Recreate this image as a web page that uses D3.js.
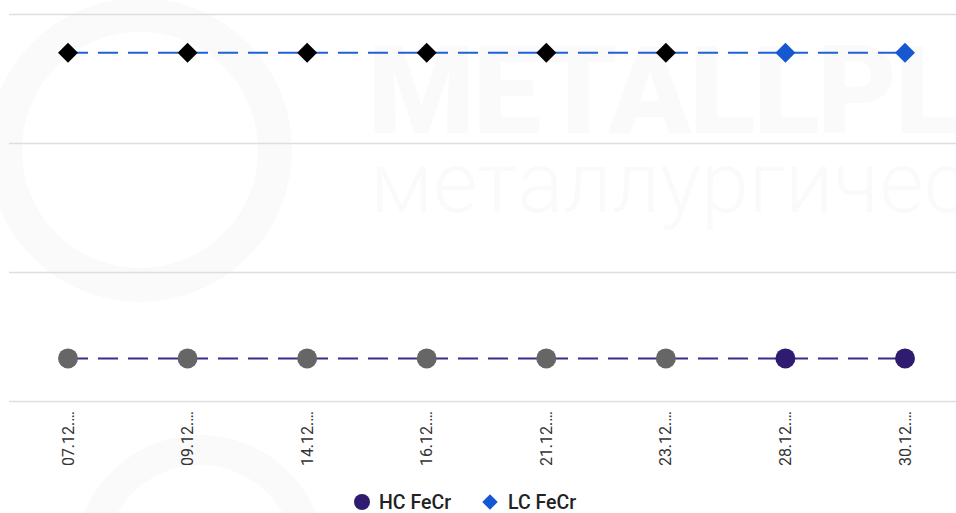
<!DOCTYPE html>
<html>
<head>
<meta charset="utf-8">
<script src="https://cdn.jsdelivr.net/npm/d3@7"></script>
<style>
  html, body { margin: 0; padding: 0; background: #fff; overflow: hidden; }
  svg { display: block; font-family: Roboto, "Noto Sans", sans-serif; }
</style>
</head>
<body>
<svg id="chart" width="956" height="513"></svg>
<script>
// dates on the x axis (shown truncated, as in the source)
const dates = ["07.12.…", "09.12.…", "14.12.…", "16.12.…", "21.12.…", "23.12.…", "28.12.…", "30.12.…"];
// y values (no scale labels are shown, relative units)
const hcValues = [33, 33, 33, 33, 33, 33, 33, 33];
const lcValues = [270, 270, 270, 270, 270, 270, 270, 270];
// which points are highlighted (last two in series colour)
const highlighted = [false, false, false, false, false, false, true, true];
const yTicks = [0, 100, 200, 300];

const series = [
  { name: "HC FeCr", values: hcValues, line: "#3f2b8c", mark: "#2f1b70", base: "#666666", shape: "circle" },
  { name: "LC FeCr", values: lcValues, line: "#1f62d8", mark: "#1558d0", base: "#000000", shape: "diamond" },
];

const width = 956, height = 513;
const svg = d3.select("#chart");

// faint watermark
const wm = svg.append("g").attr("pointer-events", "none");
wm.append("circle").attr("cx", 140).attr("cy", 150).attr("r", 135)
  .attr("fill", "none").attr("stroke", "#fafafa").attr("stroke-width", 34);
wm.append("circle").attr("cx", 200).attr("cy", 560).attr("r", 110)
  .attr("fill", "none").attr("stroke", "#fafafa").attr("stroke-width", 30);
wm.append("text").attr("x", 368).attr("y", 133)
  .attr("font-size", 122).attr("font-weight", 900).attr("fill", "#fafafa")
  .attr("letter-spacing", -2).text("METALLPL");
wm.append("text").attr("x", 370).attr("y", 212)
  .attr("font-size", 86).attr("font-weight", 300).attr("fill", "#fafafa")
  .text("металлургичес");

const x = d3.scalePoint().domain(dates).range([68, 905]);
const y = d3.scaleLinear().domain([0, 300]).range([401, 14]);

// grid
svg.append("g").selectAll("line").data(yTicks).join("line")
  .attr("x1", 9).attr("x2", width)
  .attr("y1", d => Math.round(y(d)) + 0.5).attr("y2", d => Math.round(y(d)) + 0.5)
  .attr("stroke", "#dedede").attr("stroke-width", 1.5);

// x labels
svg.append("g").selectAll("text").data(dates).join("text")
  .attr("transform", d => `translate(${x(d)},411) rotate(-90)`)
  .attr("text-anchor", "end").attr("dy", "0.35em")
  .attr("font-size", 16).attr("fill", "#333")
  .text(d => d);

const diamond = d3.symbol().type(d3.symbolSquare).size(200);

series.forEach(s => {
  const line = d3.line().x((d, i) => x(dates[i])).y(d => y(d));
  svg.append("path").datum(s.values)
    .attr("d", line).attr("fill", "none")
    .attr("stroke", s.line).attr("stroke-width", 2)
    .attr("stroke-dasharray", "20,10");

  const g = svg.append("g");
  const pts = s.values.map((v, i) => ({ v, i }));
  if (s.shape === "circle") {
    g.selectAll("circle").data(pts).join("circle")
      .attr("cx", d => x(dates[d.i])).attr("cy", d => y(d.v)).attr("r", 10)
      .attr("fill", d => highlighted[d.i] ? s.mark : s.base);
  } else {
    g.selectAll("path").data(pts).join("path")
      .attr("d", diamond)
      .attr("transform", d => `translate(${x(dates[d.i])},${y(d.v)}) rotate(45)`)
      .attr("fill", d => highlighted[d.i] ? s.mark : s.base);
  }
});

// legend
const legend = svg.append("g").attr("transform", "translate(0,502)");
legend.append("circle").attr("cx", 362).attr("cy", 0).attr("r", 8).attr("fill", series[0].mark);
legend.append("text").attr("x", 379).attr("y", 0).attr("dy", "0.35em")
  .attr("font-size", 19.5).attr("font-weight", 500).attr("fill", "#222").text(series[0].name);
legend.append("path").attr("d", d3.symbol().type(d3.symbolSquare).size(120))
  .attr("transform", "translate(490,0) rotate(45)").attr("fill", series[1].mark);
legend.append("text").attr("x", 508).attr("y", 0).attr("dy", "0.35em")
  .attr("font-size", 19.5).attr("font-weight", 500).attr("fill", "#222").text(series[1].name);
</script>
</body>
</html>
